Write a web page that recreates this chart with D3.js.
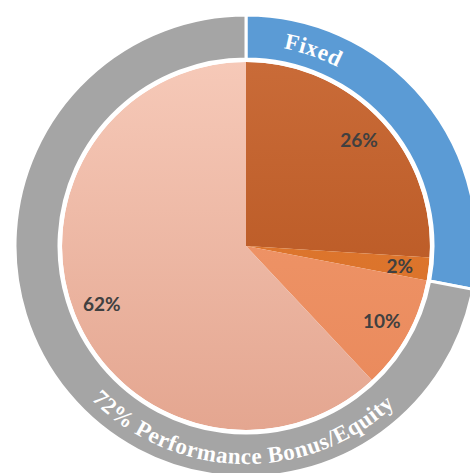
<!DOCTYPE html>
<html><head><meta charset="utf-8">
<script src="https://cdn.jsdelivr.net/npm/d3@7"></script>
<style>html,body{margin:0;padding:0;background:#fff;overflow:hidden}</style>
</head><body>
<svg id="c" width="470" height="473"></svg>
<script>
const sliceLabels = ["26%", "2%", "10%", "62%"];
const sliceValues = [26, 2, 10, 62];
const sliceTop = ["#C96B38", "#E07C34", "#F29C70", "#F6C9B8"];
const sliceBottom = ["#B3511B", "#D96E25", "#E9885A", "#E4A690"];
const ringLabels = ["Fixed", "72% Performance Bonus/Equity"];
const ringValues = [28, 72];
const ringColors = ["#5B9BD5", "#A5A5A5"];

const svg = d3.select("#c");
const cx = 246, cy = 246;
const R = 184, rIn = 187, rOut = 231;
const g = svg.append("g").attr("transform", `translate(${cx},${cy})`);
const defs = svg.append("defs");

sliceValues.forEach((v, i) => {
  const lg = defs.append("linearGradient").attr("id", "g" + i)
    .attr("gradientUnits", "userSpaceOnUse")
    .attr("x1", 0).attr("y1", -R).attr("x2", 0).attr("y2", R);
  lg.append("stop").attr("offset", "0%").attr("stop-color", sliceTop[i]);
  lg.append("stop").attr("offset", "100%").attr("stop-color", sliceBottom[i]);
});

const pie = d3.pie().sort(null).startAngle(0).endAngle(2 * Math.PI);
const arcs = pie(sliceValues);
const arc = d3.arc().innerRadius(0).outerRadius(R);
g.selectAll("path.s").data(arcs).join("path").attr("class", "s")
  .attr("d", arc).attr("fill", (d, i) => `url(#g${i})`)
  .attr("stroke", "none");
g.append("circle").attr("r", R + 1.2).attr("fill", "none").attr("stroke", "#fff").attr("stroke-width", 2.5);

const ringArcs = pie(ringValues);
const ringArc = d3.arc().innerRadius(rIn).outerRadius(rOut);
g.selectAll("path.r").data(ringArcs).join("path").attr("class", "r")
  .attr("d", ringArc).attr("fill", (d, i) => ringColors[i])
  .attr("stroke", "#fff").attr("stroke-width", 3);

const labArc = d3.arc().innerRadius(155).outerRadius(155);
g.selectAll("text.l").data(arcs).join("text").attr("class", "l")
  .attr("transform", d => `translate(${labArc.centroid(d)})`)
  .attr("text-anchor", "middle").attr("dominant-baseline", "central")
  .attr("font-family", "Lato, 'Open Sans', sans-serif").attr("font-weight", "bold")
  .attr("font-size", 19).attr("fill", "#404040")
  .text((d, i) => sliceLabels[i]);

function pt(r, a) { return [r * Math.sin(a), -r * Math.cos(a)]; }
const deg = Math.PI / 180;
const rT = 201, aT = 19 * deg, spanT = 40 * deg;
let p0 = pt(rT, aT - spanT), p1 = pt(rT, aT + spanT);
defs.append("path").attr("id", "tp0")
  .attr("d", `M${p0[0] + cx},${p0[1] + cy} A${rT},${rT} 0 0 1 ${p1[0] + cx},${p1[1] + cy}`);
const rB = 218, aB = 181 * deg, spanB = 80 * deg;
let q0 = pt(rB, aB + spanB), q1 = pt(rB, aB - spanB);
defs.append("path").attr("id", "tp1")
  .attr("d", `M${q0[0] + cx},${q0[1] + cy} A${rB},${rB} 0 0 0 ${q1[0] + cx},${q1[1] + cy}`);

svg.selectAll("text.rt").data(ringLabels).join("text").attr("class", "rt")
  .attr("font-family", "'Liberation Serif', 'DejaVu Serif', serif").attr("font-weight", "bold")
  .attr("font-size", 23).attr("letter-spacing", 0.6).attr("fill", "#fff")
  .append("textPath").attr("href", (d, i) => "#tp" + i)
  .attr("startOffset", "50%").attr("text-anchor", "middle")
  .text(d => d);
</script>
</body></html>
